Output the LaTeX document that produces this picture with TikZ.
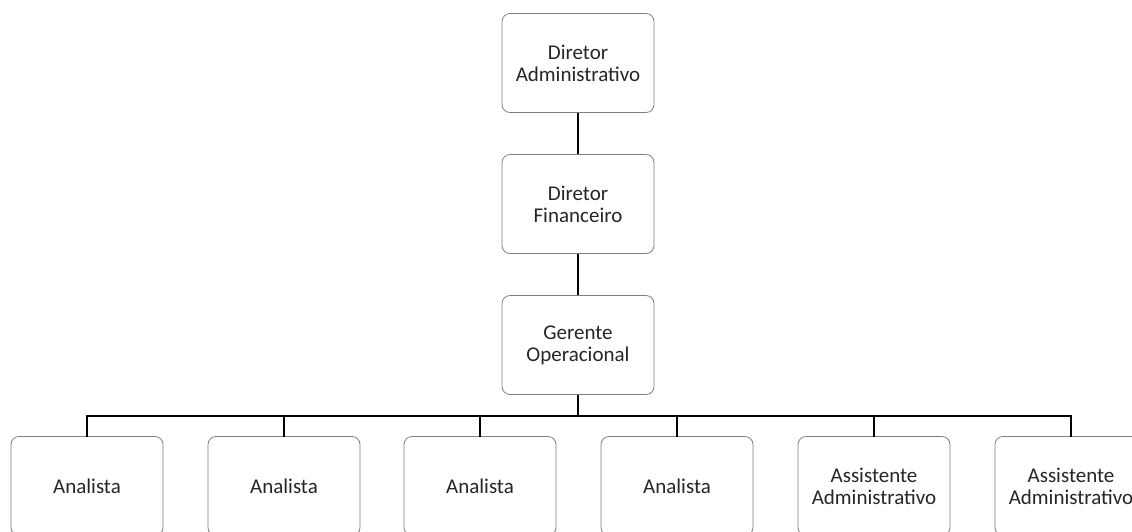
\documentclass[tikz,border=0pt]{standalone}
\usepackage{fontspec}
\setmainfont{Carlito}
\usepackage{xcolor}
\definecolor{orgline}{HTML}{7F7F7F}
\definecolor{orgtext}{HTML}{262626}
\begin{document}
\begin{tikzpicture}[x=1pt, y=1pt,
  cargo/.style={draw=orgline, line width=0.8pt, rounded corners=8pt, fill=white,
    minimum width=152pt, minimum height=99pt, inner sep=0pt, align=center,
    text=orgtext, font=\fontsize{21pt}{22pt}\selectfont},
  elo/.style={draw=black, line width=1.8pt}]

  \useasboundingbox (0,0) rectangle (1132,-531);
  \clip (0,0) rectangle (1132,-531);

  \node[cargo] (dadm) at (578,-63)  {Diretor\\Administrativo};
  \node[cargo] (dfin) at (578,-204) {Diretor\\Financeiro};
  \node[cargo] (gop)  at (578,-345) {Gerente\\Operacional};

  \node[cargo] (an1) at (87,-486)   {Analista};
  \node[cargo] (an2) at (284,-486)  {Analista};
  \node[cargo] (an3) at (480,-486)  {Analista};
  \node[cargo] (an4) at (677,-486)  {Analista};
  \node[cargo] (as1) at (874,-486)  {Assistente\\Administrativo};
  \node[cargo] (as2) at (1071,-486) {Assistente\\Administrativo};

  \draw[elo] (dadm.south) -- (dfin.north);
  \draw[elo] (dfin.south) -- (gop.north);

  \coordinate (barra) at (578,-416);
  \draw[elo] (gop.south) -- (barra);
  \foreach \n in {an1,an2,an3,an4,as1,as2}
    \draw[elo, line cap=rect] (barra) -| (\n.north);

\end{tikzpicture}
\end{document}
